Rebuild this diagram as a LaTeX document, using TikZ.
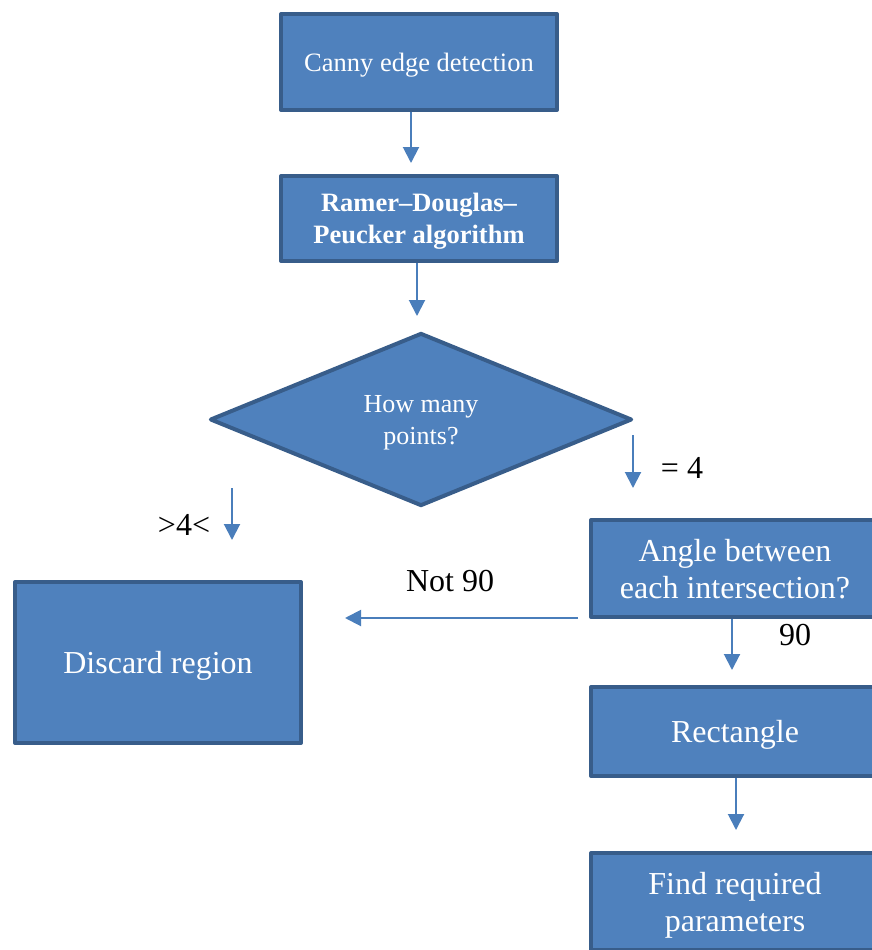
\documentclass[tikz,border=0pt]{standalone}
\usepackage{fontspec}
\setmainfont{Liberation Serif}
\usetikzlibrary{shapes.geometric,arrows.meta}
\definecolor{boxfill}{HTML}{4F81BD}
\definecolor{boxline}{HTML}{385D8A}
\definecolor{arrowblue}{HTML}{4A7EBB}
\begin{document}
\begin{tikzpicture}[x=1pt,y=1pt,
  stage/.style={draw=boxline, fill=boxfill, line width=4pt, line join=round,
    text=white, align=center, inner sep=0pt, text depth=0pt,
    font=\fontsize{32}{37}\selectfont},
  smalltext/.style={font=\fontsize{26.5}{32}\selectfont},
  boldtext/.style={font=\fontsize{26.5}{32}\selectfont\bfseries},
  flow/.style={draw=arrowblue, line width=2pt,
    -{Triangle[width=16pt,length=16pt]}},
  lbl/.style={font=\fontsize{32}{37}\selectfont, inner sep=0pt, anchor=base}]
\useasboundingbox (0,0) rectangle (872,-950);
\clip (0,0) rectangle (872,-950);

% process boxes
\node[stage, smalltext, minimum width=276, minimum height=96] (canny) at (419,-62) {Canny edge detection};
\node[stage, boldtext, minimum width=276, minimum height=85] (rdp) at (419,-218.5) {Ramer--Douglas--\\Peucker algorithm};
\node[stage, shape=diamond, font=\fontsize{26}{32}\selectfont, minimum width=422, minimum height=173] (count) at (421,-419.5) {How many\\points?};
\node[stage, minimum width=288, minimum height=97] (angle) at (735,-568.5) {Angle between\\each intersection?};
\node[stage, minimum width=286, minimum height=161] (discard) at (158,-662.5) {Discard region};
\node[stage, minimum width=288, minimum height=89] (rect) at (735,-731.5) {Rectangle};
\node[stage, minimum width=288, minimum height=97] (params) at (735,-901.5) {Find required\\parameters};

% arrow end points
\coordinate (e1) at (411,-163);
\coordinate (e2) at (417,-316);
\coordinate (s3) at (633,-435);
\coordinate (e3) at (633,-488);
\coordinate (s4) at (232,-488);
\coordinate (e4) at (232,-540);
\coordinate (s5) at (578,-618);
\coordinate (e5) at (345,-618);
\coordinate (e6) at (732,-670);
\coordinate (e7) at (736,-830);

% connectors
\draw[flow] (canny.south -| e1) -- (e1);
\draw[flow] (rdp.south -| e2) -- (e2);
\draw[flow] (s3) -- (e3);
\draw[flow] (s4) -- (e4);
\draw[flow] (s5) -- (e5);
\draw[flow] (angle.south -| e6) -- (e6);
\draw[flow] (rect.south -| e7) -- (e7);

% branch labels
\node[lbl] (lfour) at (682,-478) {= 4};
\node[lbl] (lmore) at (184,-535) {>4<};
\node[lbl] (lnot) at (450,-591) {Not 90};
\node[lbl] (lninety) at (795,-645) {90};
\end{tikzpicture}
\end{document}
